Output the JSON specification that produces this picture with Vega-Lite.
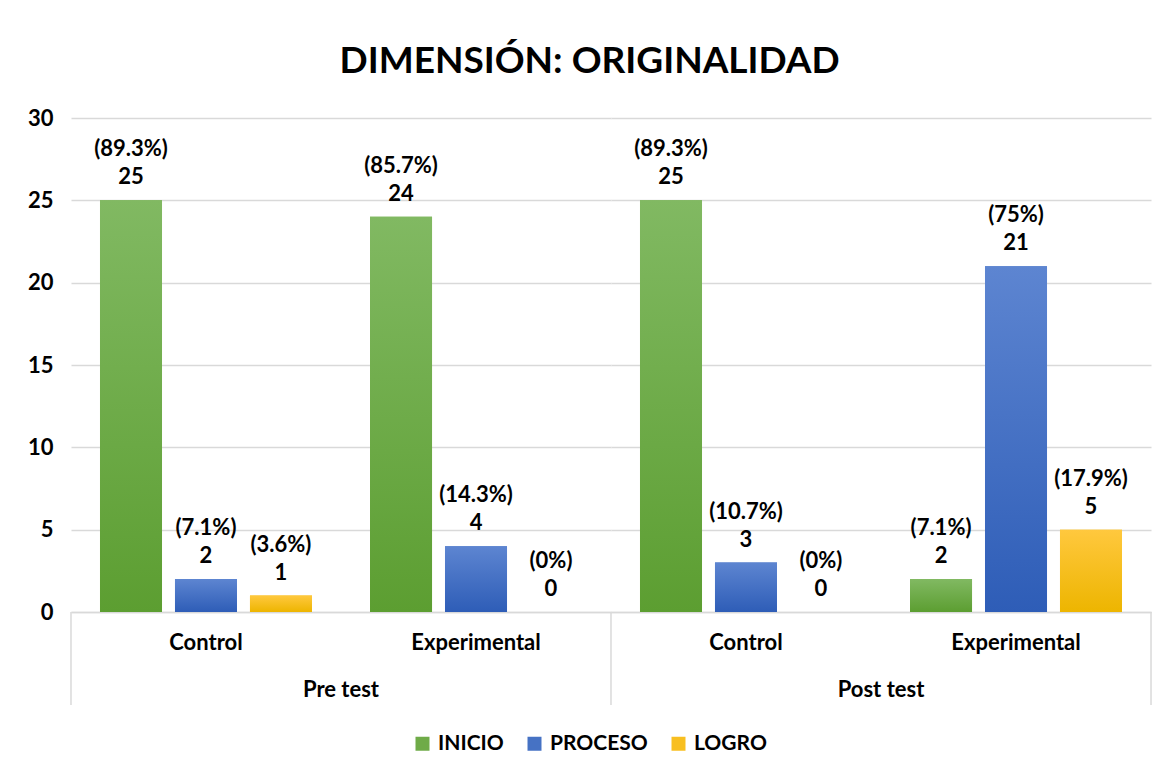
{
  "$schema": "https://vega.github.io/schema/vega-lite/v6.json",
  "background": "white",
  "padding": {"left": 27, "top": 43, "right": 10, "bottom": 5},
  "bounds": "flush",
  "title": {"text": "DIMENSIÓN: ORIGINALIDAD", "font": "Lato", "fontSize": 37, "fontWeight": "bold", "color": "#000000", "anchor": "middle", "frame": "bounds", "offset": 26},
  "data": {"values": [
    {"fase": "Pre test", "grupo": "Control", "nivel": "INICIO", "valor": 25, "pct": "(89.3%)"},
    {"fase": "Pre test", "grupo": "Control", "nivel": "PROCESO", "valor": 2, "pct": "(7.1%)"},
    {"fase": "Pre test", "grupo": "Control", "nivel": "LOGRO", "valor": 1, "pct": "(3.6%)"},
    {"fase": "Pre test", "grupo": "Experimental", "nivel": "INICIO", "valor": 24, "pct": "(85.7%)"},
    {"fase": "Pre test", "grupo": "Experimental", "nivel": "PROCESO", "valor": 4, "pct": "(14.3%)"},
    {"fase": "Pre test", "grupo": "Experimental", "nivel": "LOGRO", "valor": 0, "pct": "(0%)"},
    {"fase": "Post test", "grupo": "Control", "nivel": "INICIO", "valor": 25, "pct": "(89.3%)"},
    {"fase": "Post test", "grupo": "Control", "nivel": "PROCESO", "valor": 3, "pct": "(10.7%)"},
    {"fase": "Post test", "grupo": "Control", "nivel": "LOGRO", "valor": 0, "pct": "(0%)"},
    {"fase": "Post test", "grupo": "Experimental", "nivel": "INICIO", "valor": 2, "pct": "(7.1%)"},
    {"fase": "Post test", "grupo": "Experimental", "nivel": "PROCESO", "valor": 21, "pct": "(75%)"},
    {"fase": "Post test", "grupo": "Experimental", "nivel": "LOGRO", "valor": 5, "pct": "(17.9%)"}
  ]},
  "facet": {"column": {"field": "fase", "type": "nominal", "sort": ["Pre test", "Post test"],
    "header": {"title": null, "labelOrient": "bottom", "labelFont": "Lato", "labelFontSize": 22, "labelFontWeight": "bold", "labelColor": "#000000", "labelPadding": 27}}},
  "spacing": 0,
  "resolve": {"scale": {"x": "shared"}},
  "spec": {
    "width": 540,
    "height": 494,
    "encoding": {
      "x": {"field": "grupo", "type": "nominal", "sort": ["Control", "Experimental"],
        "scale": {"paddingInner": 0.1667, "paddingOuter": 0.0833},
        "axis": {"title": null, "labelAngle": 0, "labelFont": "Lato", "labelFontSize": 22, "labelFontWeight": "bold", "labelColor": "#000000", "labelPadding": 20, "ticks": false, "domainColor": "#d9d9d9", "domainWidth": 1.5}},
      "y": {"field": "valor", "type": "quantitative",
        "scale": {"domain": [0, 30], "nice": false},
        "axis": {"title": null, "values": [0, 5, 10, 15, 20, 25, 30], "labelFont": "Lato", "labelFontSize": 22, "labelFontWeight": "bold", "labelColor": "#000000", "labelPadding": 18, "ticks": false, "domain": false, "gridColor": "#d9d9d9", "gridWidth": 1.5}}
    },
    "layer": [
      {
        "mark": {"type": "bar"},
        "encoding": {
          "xOffset": {"field": "nivel", "type": "nominal", "sort": ["INICIO", "PROCESO", "LOGRO"],
            "scale": {"paddingInner": 0.173, "paddingOuter": 0.0867}},
          "color": {"field": "nivel", "type": "nominal", "sort": ["INICIO", "PROCESO", "LOGRO"],
            "scale": {"domain": ["INICIO", "PROCESO", "LOGRO"], "range": ["#6fab48", "#4672c4", "#f8bf20"]},
            "legend": {"title": null, "orient": "bottom", "direction": "horizontal", "symbolType": "square", "symbolSize": 196, "symbolStrokeWidth": 0, "labelFont": "Lato", "labelFontSize": 21, "labelFontWeight": "bold", "labelColor": "#000000", "labelOffset": 5, "columnPadding": 20, "offset": 27}
          }
        }
      },
      {
        "mark": {"type": "bar"},
        "encoding": {
          "xOffset": {"field": "nivel", "type": "nominal", "sort": ["INICIO", "PROCESO", "LOGRO"]},
          "color": {
            "condition": [
              {"test": "datum.nivel === 'INICIO'", "value": {"gradient": "linear", "x1": 0, "y1": 0, "x2": 0, "y2": 1, "stops": [{"offset": 0, "color": "#81b962"}, {"offset": 1, "color": "#5c9e31"}]}},
              {"test": "datum.nivel === 'PROCESO'", "value": {"gradient": "linear", "x1": 0, "y1": 0, "x2": 0, "y2": 1, "stops": [{"offset": 0, "color": "#5d85d1"}, {"offset": 1, "color": "#2e5db7"}]}}
            ],
            "value": {"gradient": "linear", "x1": 0, "y1": 0, "x2": 0, "y2": 1, "stops": [{"offset": 0, "color": "#ffc83e"}, {"offset": 1, "color": "#edb500"}]}
          }
        }
      },
      {
        "mark": {"type": "text", "font": "Lato", "fontSize": 22, "fontWeight": "bold", "color": "#000000", "baseline": "alphabetic", "dy": -16},
        "encoding": {
          "xOffset": {"field": "nivel", "type": "nominal", "sort": ["INICIO", "PROCESO", "LOGRO"]},
          "text": {"field": "valor", "type": "quantitative"}
        }
      },
      {
        "mark": {"type": "text", "font": "Lato", "fontSize": 22, "fontWeight": "bold", "color": "#000000", "baseline": "alphabetic", "dy": -44},
        "encoding": {
          "xOffset": {"field": "nivel", "type": "nominal", "sort": ["INICIO", "PROCESO", "LOGRO"]},
          "text": {"field": "pct", "type": "nominal"}
        }
      },
      {
        "transform": [{"filter": "datum.grupo == 'Control' && datum.nivel == 'INICIO'"}],
        "mark": {"type": "rule", "color": "#d9d9d9", "strokeWidth": 1.5},
        "encoding": {
          "x": {"field": "grupo", "type": "nominal", "bandPosition": -0.1},
          "y": {"datum": 0},
          "y2": {"datum": -5.65}
        }
      },
      {
        "transform": [{"filter": "datum.fase == 'Post test' && datum.grupo == 'Experimental' && datum.nivel == 'INICIO'"}],
        "mark": {"type": "rule", "color": "#d9d9d9", "strokeWidth": 1.5},
        "encoding": {
          "x": {"field": "grupo", "type": "nominal", "bandPosition": 1.1},
          "y": {"datum": 0},
          "y2": {"datum": -5.65}
        }
      }
    ]
  },
  "config": {
    "view": {"stroke": null},
    "legend": {"layout": {"bottom": {"anchor": "middle"}}}
  }
}
